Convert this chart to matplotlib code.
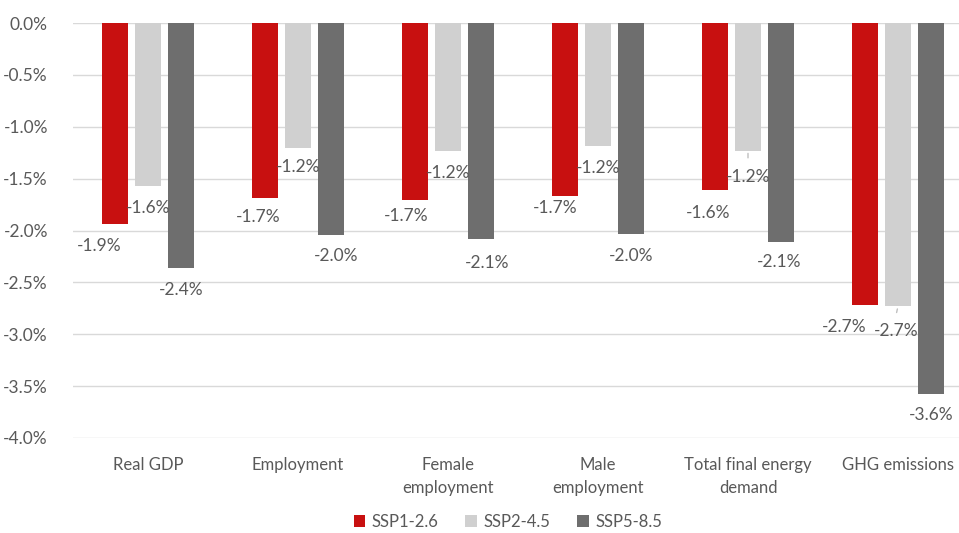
import matplotlib
matplotlib.use("Agg")
import matplotlib.pyplot as plt
import numpy as np

plt.rcParams['font.family'] = ['Lato', 'DejaVu Sans']

# Data: percentage change vs. baseline
categories = ["Real GDP", "Employment", "Female\nemployment", "Male\nemployment",
              "Total final energy\ndemand", "GHG emissions"]
series_names = ["SSP1-2.6", "SSP2-4.5", "SSP5-8.5"]
ssp126 = [-1.94, -1.69, -1.71, -1.67, -1.61, -2.72]
ssp245 = [-1.57, -1.20, -1.23, -1.19, -1.23, -2.73]
ssp585 = [-2.36, -2.04, -2.08, -2.03, -2.11, -3.58]
yticks = [0.0, -0.5, -1.0, -1.5, -2.0, -2.5, -3.0, -3.5, -4.0]

colors = ["#C81010", "#D0D0D0", "#6E6E6E"]
text_color = "#595959"

# Label nudges (pixels): horizontal shift, distance below bar end
label_dx = [
    [-16, -7, -9, -10, -7, -21],
    [0, 0, 0, 0, 0, -2],
    [0, 5, 6, 0, -2, 0],
]
label_dy = [
    [22, 19, 16, 12, 23, 22],
    [22, 19, 22, 22, 26, 25],
    [22, 21, 24, 22, 20, 21],
]

W, H = 959, 533
fig = plt.figure(figsize=(W / 100, H / 100), dpi=100)
ax = fig.add_axes([73 / W, (H - 438) / H, (W - 73) / W, (438 - 23) / H])

x = np.arange(len(categories))
pitch = 0.222
width = 0.171
all_series = [ssp126, ssp245, ssp585]

for i, (vals, col) in enumerate(zip(all_series, colors)):
    pos = x + (i - 1) * pitch
    ax.bar(pos, vals, width=width, color=col, zorder=2, label=series_names[i])
    for j, v in enumerate(vals):
        ax.annotate(f"{v:.1f}%", xy=(pos[j], v),
                    xytext=(label_dx[i][j], -label_dy[i][j]),
                    textcoords="offset pixels", ha="center", va="center",
                    fontsize=12.5, color=text_color, zorder=5)

# short leader lines for the displaced SSP2-4.5 labels
for j, dpx in ((4, 10), (5, 9)):
    pos = x[j]
    v = ssp245[j]
    ax.annotate("", xy=(pos, v), xytext=(label_dx[1][j], -dpx),
                textcoords="offset pixels",
                arrowprops=dict(arrowstyle="-", color="#BFBFBF", lw=1))

ax.set_ylim(-4.0, 0.0)
ax.set_xlim(-0.5, 5.5 - 14 / 150)
ax.set_yticks(yticks)
ax.set_yticklabels([f"{t:.1f}%" for t in yticks])
ax.set_xticks(x)
ax.set_xticklabels(categories, linespacing=1.5)

ax.grid(axis="y", color="#D9D9D9", lw=1, zorder=0)
for s in ax.spines.values():
    s.set_visible(False)
ax.tick_params(axis="both", length=0, labelsize=12, colors=text_color)
ax.tick_params(axis="y", pad=18, labelsize=12.5)
ax.tick_params(axis="x", pad=14)

fig.legend(loc="center", bbox_to_anchor=(508 / W, (H - 522) / H), ncol=3,
           frameon=False, fontsize=12, handlelength=0.7, handleheight=0.7,
           handletextpad=0.4, columnspacing=1.6, labelcolor=text_color)

fig.savefig("out.png", dpi=100)
